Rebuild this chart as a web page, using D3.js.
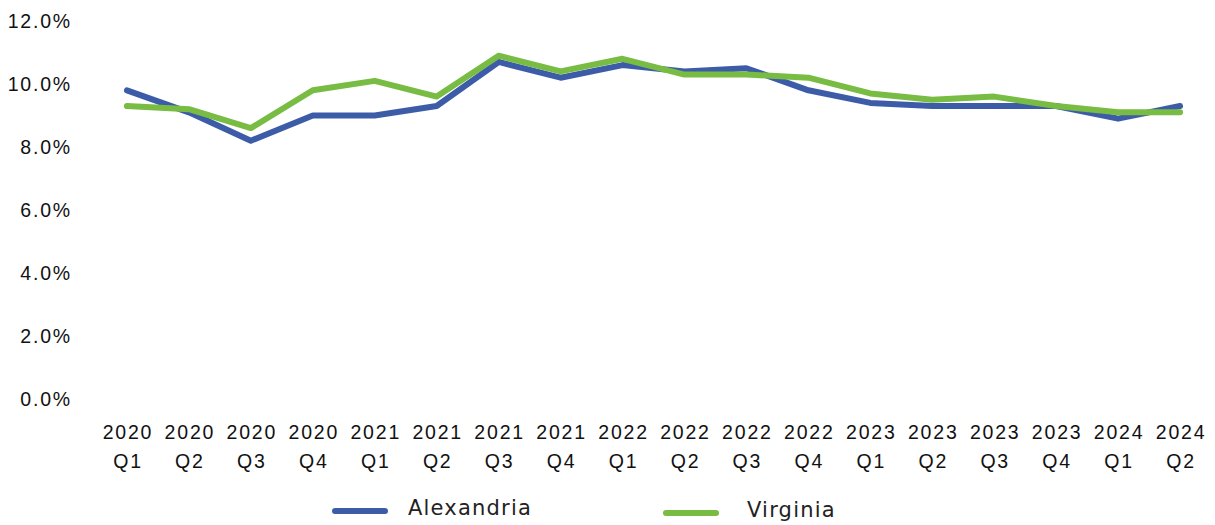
<!DOCTYPE html>
<html>
<head>
<meta charset="utf-8">
<script src="https://cdn.jsdelivr.net/npm/d3@7"></script>
<style>
  body { margin: 0; background: #fff; }
  .tick text { font-family: "Liberation Sans", Arial, sans-serif; fill: #111; letter-spacing: 1.8px; }
</style>
</head>
<body>
<svg id="chart" width="1215" height="525"></svg>
<script>
const years = ["2020", "2020", "2020", "2020", "2021", "2021", "2021", "2021", "2022", "2022", "2022", "2022", "2023", "2023", "2023", "2023", "2024", "2024"];
const quarters = ["Q1", "Q2", "Q3", "Q4", "Q1", "Q2", "Q3", "Q4", "Q1", "Q2", "Q3", "Q4", "Q1", "Q2", "Q3", "Q4", "Q1", "Q2"];
const alexandria = [9.8, 9.1, 8.2, 9.0, 9.0, 9.3, 10.7, 10.2, 10.6, 10.4, 10.5, 9.8, 9.4, 9.3, 9.3, 9.3, 8.9, 9.3];
const virginia = [9.3, 9.2, 8.6, 9.8, 10.1, 9.6, 10.9, 10.4, 10.8, 10.3, 10.3, 10.2, 9.7, 9.5, 9.6, 9.3, 9.1, 9.1];
const yTicks = [0, 2, 4, 6, 8, 10, 12];

const series = [
    { name: "Alexandria", values: alexandria, color: "#3d5ca8" },
    { name: "Virginia", values: virginia, color: "#78bc43" }
];

const svg = d3.select("#chart");
const margin = { top: 21, left: 96, bottom: 126, right: 4 };
const width = 1215, height = 525;
const keys = years.map((y, i) => i);

// band scale so each point sits in the middle of its category
const x = d3.scaleBand().domain(keys).range([margin.left, width - margin.right]);
const y = d3.scaleLinear().domain([0, 12]).range([height - margin.bottom, margin.top]);

// y axis labels, no line
svg.append("g")
    .attr("transform", `translate(${margin.left - 21},0)`)
    .call(d3.axisLeft(y).tickValues(yTicks).tickSize(0).tickFormat(d => d.toFixed(1) + "%"))
    .call(g => g.select(".domain").remove())
    .call(g => g.selectAll("text").attr("font-size", 19.5).attr("dy", "0.35em"));

// x labels on two lines
const xg = svg.append("g")
    .attr("transform", `translate(0,${y(0) + 33})`)
    .call(d3.axisBottom(x).tickSize(0).tickFormat(""))
    .call(g => g.select(".domain").remove());

xg.selectAll(".tick").each(function(d) {
    const t = d3.select(this).select("text")
        .attr("font-size", 19.5)
        .attr("y", 0)
        .attr("dy", 0);
    t.append("tspan").attr("x", 1).attr("dy", "0.35em").text(years[d]);
    t.append("tspan").attr("x", 1).attr("dy", "1.5em").text(quarters[d]);
});

const line = d3.line()
    .x((d, i) => x(i) + x.bandwidth() / 2)
    .y(d => y(d));

svg.append("g")
    .selectAll("path")
    .data(series)
    .join("path")
    .attr("fill", "none")
    .attr("stroke", d => d.color)
    .attr("stroke-width", 6)
    .attr("stroke-linecap", "round")
    .attr("stroke-linejoin", "round")
    .attr("d", d => line(d.values));

// legend
const legendX = [335, 666];
const legend = svg.append("g")
    .selectAll("g")
    .data(series)
    .join("g")
    .attr("transform", (d, i) => `translate(${legendX[i]},${i === 0 ? 511 : 513})`);

legend.append("line")
    .attr("x1", 0).attr("x2", 50)
    .attr("stroke", d => d.color)
    .attr("stroke-width", 6)
    .attr("stroke-linecap", "round");

legend.append("text")
    .attr("x", (d, i) => i === 0 ? 73 : 81)
    .attr("dy", "0.18em")
    .attr("font-family", "'DejaVu Sans', sans-serif")
    .attr("font-size", 21)
    .attr("letter-spacing", 1.2)
    .attr("fill", "#222")
    .text(d => d.name);
</script>
</body>
</html>
